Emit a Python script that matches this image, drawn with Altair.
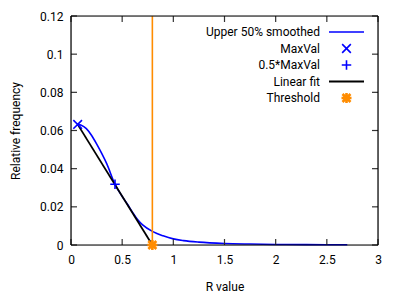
import altair as alt
import pandas as pd

# smoothed curve
curve_x = [0.06, 0.1, 0.15, 0.2, 0.25, 0.3, 0.35, 0.43, 0.5, 0.55, 0.6, 0.65, 0.7, 0.8, 0.9, 1.0, 1.1, 1.25, 1.5, 1.75, 2.0, 2.3, 2.7]
curve_y = [0.0632, 0.0628, 0.061, 0.0575, 0.053, 0.048, 0.0425, 0.0318, 0.0255, 0.0215, 0.0172, 0.0133, 0.0105, 0.0070, 0.0048, 0.0032, 0.0023, 0.0015, 0.0008, 0.0005, 0.0003, 0.0002, 0.0001]
maxval = (0.065, 0.0632)
halfmax = (0.43, 0.0318)
threshold = (0.795, 0.0)
fit_x = [0.065, 0.795]
fit_y = [0.0632, 0.0]
x_ticks = [0, 0.5, 1, 1.5, 2, 2.5, 3]
y_ticks = [0, 0.02, 0.04, 0.06, 0.08, 0.1, 0.12]
legend_labels = ["Upper 50% smoothed", "MaxVal", "0.5*MaxVal", "Linear fit", "Threshold"]

W, H = 307, 229
XMAX, YMAX = 3, 0.12
FONT = "Roboto"
BLUE = "#0000ff"
ORANGE = "#ff8c00"
XSHAPE = "M-1,-1L1,1M-1,1L1,-1"
PLUS = "M-1,0L1,0M0,-1L0,1"
STAR = "M-1,0L1,0M0,-1L0,1M-0.8,-0.8L0.8,0.8M-0.8,0.8L0.8,-0.8"

xs = alt.Scale(domain=[0, XMAX], nice=False)
ys = alt.Scale(domain=[0, YMAX], nice=False)

common = dict(ticks=False, domain=False, grid=False, labelFontSize=12, titleFontSize=12,
              labelColor="black", titleColor="black", labelFont=FONT, titleFont=FONT,
              titleFontWeight="normal", labelOverlap=False, labelFlush=False, labelBound=False)
xaxis = alt.Axis(values=x_ticks, labelExpr="format(datum.value, '.1~f')",
                 labelPadding=9, title="R value", titlePadding=16, **common)
yaxis = alt.Axis(values=y_ticks, labelExpr="format(datum.value, '.2~f')",
                 labelPadding=8, title="Relative frequency", titlePadding=17, **common)

def X(field="x"):
    return alt.X(f"{field}:Q", scale=xs, axis=None)

def Y(field="y"):
    return alt.Y(f"{field}:Q", scale=ys, axis=None)

cdf = pd.DataFrame({"x": curve_x, "y": curve_y})
curve = alt.Chart(cdf).mark_line(color=BLUE, strokeWidth=1.6, interpolate="monotone").encode(
    x=alt.X("x:Q", scale=xs, axis=xaxis), y=alt.Y("y:Q", scale=ys, axis=yaxis))

fdf = pd.DataFrame({"x": fit_x, "y": fit_y})
fit = alt.Chart(fdf).mark_line(color="black", strokeWidth=1.8).encode(x=X(), y=Y())

vline = alt.Chart(pd.DataFrame({"x": [threshold[0]]})).mark_rule(color=ORANGE, strokeWidth=1.6).encode(
    x=X(), y=alt.value(0), y2=alt.value(H))

pt = dict(filled=False, opacity=1)
mdf = pd.DataFrame({"x": [maxval[0]], "y": [maxval[1]]})
mx = alt.Chart(mdf).mark_point(shape=XSHAPE, color=BLUE, size=75, strokeWidth=1.6, **pt).encode(x=X(), y=Y())
hdf = pd.DataFrame({"x": [halfmax[0]], "y": [halfmax[1]]})
hm = alt.Chart(hdf).mark_point(shape=PLUS, color=BLUE, size=90, strokeWidth=1.6, **pt).encode(x=X(), y=Y())
tdf = pd.DataFrame({"x": [threshold[0]], "y": [threshold[1]]})
th = alt.Chart(tdf).mark_point(shape=STAR, color=ORANGE, size=100, strokeWidth=2.6, **pt).encode(x=X(), y=Y())

# inside ticks (gnuplot style, mirrored): tick length 6px expressed in data units
tlx = XMAX * 6 / W
tly = YMAX * 6 / H
xtb = pd.DataFrame({"a": x_ticks, "b": [0.0] * len(x_ticks), "c": [tly] * len(x_ticks)})
xtt = pd.DataFrame({"a": x_ticks, "b": [YMAX] * len(x_ticks), "c": [YMAX - tly] * len(x_ticks)})
ytl = pd.DataFrame({"a": y_ticks, "b": [0.0] * len(y_ticks), "c": [tlx] * len(y_ticks)})
ytr = pd.DataFrame({"a": y_ticks, "b": [XMAX] * len(y_ticks), "c": [XMAX - tlx] * len(y_ticks)})
tk = dict(color="#333333", strokeWidth=1.2, opacity=1)
xb = alt.Chart(xtb).mark_rule(**tk).encode(x=X("a"), y=Y("b"), y2="c:Q")
xtop = alt.Chart(xtt).mark_rule(**tk).encode(x=X("a"), y=Y("b"), y2="c:Q")
yl = alt.Chart(ytl).mark_rule(**tk).encode(y=Y("a"), x=X("b"), x2="c:Q")
yr = alt.Chart(ytr).mark_rule(**tk).encode(y=Y("a"), x=X("b"), x2="c:Q")

# border box
one = pd.DataFrame({"a": [0]})
bk = dict(color="black", strokeWidth=1.2)
border = [
    alt.Chart(one).mark_rule(**bk).encode(x=alt.value(0), x2=alt.value(W), y=alt.value(0)),
    alt.Chart(one).mark_rule(**bk).encode(x=alt.value(0), x2=alt.value(W), y=alt.value(H)),
    alt.Chart(one).mark_rule(**bk).encode(y=alt.value(0), y2=alt.value(H), x=alt.value(0)),
    alt.Chart(one).mark_rule(**bk).encode(y=alt.value(0), y2=alt.value(H), x=alt.value(W)),
]

# legend
row_y = [16, 32.5, 49, 65.5, 82]
tx = 249
sx0, sx1, sc = 258, 293, 275.5
leg = []
for lab, ry in zip(legend_labels, row_y):
    leg.append(alt.Chart(pd.DataFrame({"t": [lab]})).mark_text(
        align="right", baseline="middle", font=FONT, fontSize=12, color="black").encode(
        text="t:N", x=alt.value(tx), y=alt.value(ry)))
leg.append(alt.Chart(one).mark_rule(color=BLUE, strokeWidth=1.6).encode(
    x=alt.value(sx0), x2=alt.value(sx1), y=alt.value(row_y[0])))
leg.append(alt.Chart(one).mark_point(shape=XSHAPE, color=BLUE, size=75, strokeWidth=1.6, **pt).encode(
    x=alt.value(sc), y=alt.value(row_y[1])))
leg.append(alt.Chart(one).mark_point(shape=PLUS, color=BLUE, size=90, strokeWidth=1.6, **pt).encode(
    x=alt.value(sc), y=alt.value(row_y[2])))
leg.append(alt.Chart(one).mark_rule(color="black", strokeWidth=1.8).encode(
    x=alt.value(sx0), x2=alt.value(sx1), y=alt.value(row_y[3])))
leg.append(alt.Chart(one).mark_point(shape=STAR, color=ORANGE, size=100, strokeWidth=2.6, **pt).encode(
    x=alt.value(sc), y=alt.value(row_y[4])))

chart = alt.layer(curve, fit, vline, xb, xtop, yl, yr, *border, mx, hm, th, *leg).resolve_axis(
    x="independent", y="independent"
).properties(
    width=W, height=H, autosize=alt.AutoSizeParams(type="none"),
    padding={"left": 63, "top": 8, "right": 13, "bottom": 60}
).configure_view(stroke="black", strokeWidth=1.2).configure(background="white")

chart.save("out.html", embed_options={"renderer": "svg", "actions": False})
